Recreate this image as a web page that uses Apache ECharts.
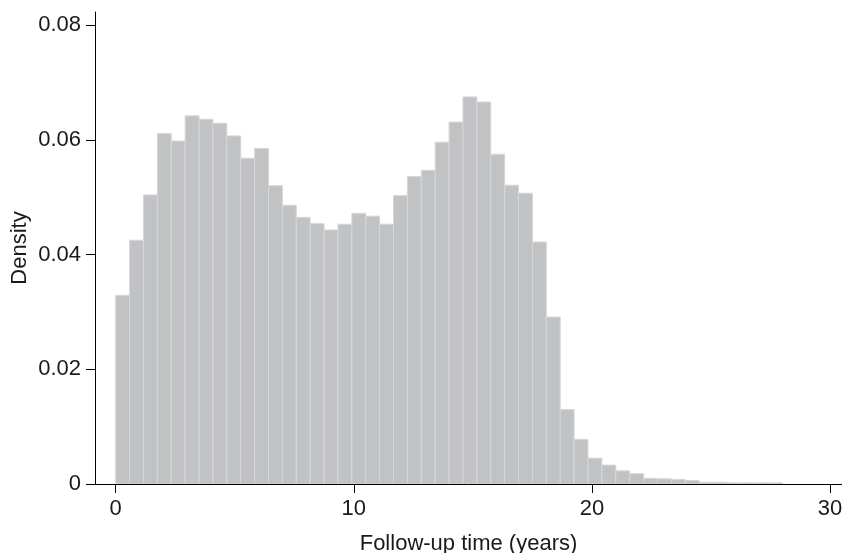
<!DOCTYPE html>
<html>
<head>
<meta charset="utf-8">
<title>Follow-up time histogram</title>
<script src="https://cdn.jsdelivr.net/npm/echarts@6/dist/echarts.min.js"></script>
<style>
  html, body { margin: 0; padding: 0; background: #ffffff; }
  #chart { width: 842px; height: 553px; }
</style>
</head>
<body>
<div id="chart"></div>
<script>
// Histogram of follow-up time: 48 equal-width bins spanning 0–28 years
const binStart = 0;
const binEnd = 28;
const density = [
  0.0329, 0.0425, 0.0504, 0.0611, 0.0598, 0.0642, 0.0636, 0.0629,
  0.0607, 0.0568, 0.0585, 0.0520, 0.0486, 0.0465, 0.0454, 0.0443,
  0.0453, 0.0472, 0.0467, 0.0453, 0.0503, 0.0536, 0.0547, 0.0596,
  0.0631, 0.0675, 0.0666, 0.0575, 0.0521, 0.0507, 0.0422, 0.0291,
  0.0130, 0.0078, 0.0045, 0.0033, 0.0023, 0.0018, 0.0010, 0.0009,
  0.0008, 0.0006, 0.0003, 0.0003, 0.0002, 0.0002, 0.0002, 0.0002
];
const xTicks = [0, 10, 20, 30];
const yTicks = [0, 0.02, 0.04, 0.06, 0.08];
const xTitle = 'Follow-up time (years)';
const yTitle = 'Density';

const binWidth = (binEnd - binStart) / density.length;
const bins = density.map((d, i) => [binStart + i * binWidth, binStart + (i + 1) * binWidth, d]);

const font = '"Liberation Sans", Arial, Helvetica, sans-serif';
const textColor = '#1a1a1a';
const chart = echarts.init(document.getElementById('chart'), null, { renderer: 'canvas' });

chart.setOption({
  animation: false,
  backgroundColor: '#ffffff',
  grid: { left: 95, right: 0, top: 12, bottom: 69, containLabel: false, outerBoundsMode: 'none' },
  xAxis: {
    type: 'value',
    min: -0.87,
    max: 30.5,
    name: xTitle,
    nameLocation: 'middle',
    nameGap: 49,
    nameMoveOverlap: false,
    nameTextStyle: { fontFamily: font, fontSize: 22, color: textColor },
    axisLine: { show: true, onZero: false, lineStyle: { color: '#000000', width: 1 } },
    axisTick: { show: true, length: 9, customValues: xTicks, lineStyle: { color: '#000000', width: 1 } },
    axisLabel: {
      customValues: xTicks,
      margin: 14,
      fontFamily: font, fontSize: 22, color: textColor,
      formatter: v => String(v)
    },
    splitLine: { show: false }
  },
  yAxis: {
    type: 'value',
    min: 0,
    max: 0.0823,
    name: yTitle,
    nameLocation: 'middle',
    nameGap: 64,
    nameRotate: 90,
    nameMoveOverlap: false,
    nameTextStyle: { fontFamily: font, fontSize: 22, color: textColor },
    axisLine: { show: true, onZero: false, lineStyle: { color: '#000000', width: 1 } },
    axisTick: { show: true, length: 9, customValues: yTicks, lineStyle: { color: '#000000', width: 1 } },
    axisLabel: {
      customValues: yTicks,
      margin: 14,
      fontFamily: font, fontSize: 22, color: textColor,
      formatter: v => (v === 0 ? '0' : v.toFixed(2))
    },
    splitLine: { show: false }
  },
  series: [{
    type: 'custom',
    data: bins,
    encode: { x: [0, 1], y: 2 },
    clip: true,
    renderItem: function (params, api) {
      const p0 = api.coord([api.value(0), api.value(2)]);
      const p1 = api.coord([api.value(1), 0]);
      return {
        type: 'rect',
        shape: { x: p0[0], y: p0[1], width: p1[0] - p0[0], height: p1[1] - p0[1] },
        style: { fill: '#c1c2c4', stroke: '#d6d7d9', lineWidth: 1 }
      };
    }
  }]
});
</script>
</body>
</html>
